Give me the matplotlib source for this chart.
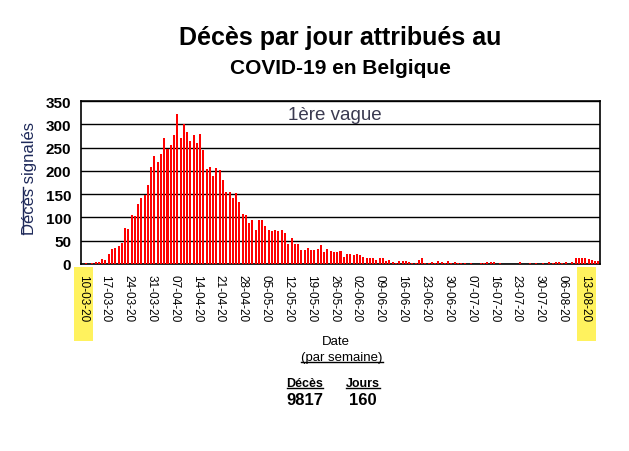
import matplotlib
matplotlib.use("Agg")
import matplotlib.pyplot as plt
import matplotlib.transforms as mtransforms
from matplotlib.patches import Rectangle
from matplotlib.lines import Line2D
import numpy as np

plt.rcParams['font.family'] = ['Liberation Sans', 'DejaVu Sans']

# deces par jour
deces = [1, 2, 1, 2, 4, 4, 11, 9, 22, 32,
         35, 39, 45, 78, 76, 106, 102, 128, 141, 148,
         170, 208, 232, 219, 236, 271, 247, 255, 277, 322,
         271, 301, 283, 264, 277, 260, 279, 245, 203, 208,
         188, 206, 201, 180, 154, 154, 141, 152, 134, 108,
         106, 87, 94, 74, 94, 94, 81, 74, 70, 72,
         70, 72, 66, 44, 55, 42, 44, 29, 31, 35,
         31, 29, 33, 40, 25, 33, 27, 25, 25, 27,
         16, 22, 22, 20, 22, 20, 14, 12, 12, 12,
         9, 12, 12, 7, 9, 5, 3, 7, 7, 7,
         5, 3, 3, 9, 12, 3, 3, 5, 2, 6,
         4, 2, 6, 2, 4, 2, 2, 2, 1, 2,
         1, 1, 2, 2, 4, 4, 4, 1, 2, 1,
         1, 1, 1, 1, 4, 1, 1, 2, 1, 2,
         1, 2, 1, 4, 3, 4, 4, 2, 4, 1,
         4, 12, 13, 12, 12, 11, 9, 6, 6]

tick_labels = ["10-03-20", "17-03-20", "24-03-20", "31-03-20", "07-04-20",
               "14-04-20", "21-04-20", "28-04-20", "05-05-20", "12-05-20",
               "19-05-20", "26-05-20", "02-06-20", "09-06-20", "16-06-20",
               "23-06-20", "30-06-20", "07-07-20", "16-07-20", "23-07-20",
               "30-07-20", "06-08-20", "13-08-20"]
tick_step = 7
total_deces = 9817
total_jours = 160

W, H = 629, 452
fig = plt.figure(figsize=(W / 100, H / 100), dpi=100)
ax = fig.add_axes([81 / W, 1 - 265 / H, 519 / W, 163 / H])

x = np.arange(len(deces))
ax.bar(x, deces, width=0.62, color='#ff0000', zorder=3)
ax.set_xlim(-0.5, len(deces) - 0.5)
ax.set_ylim(0, 350)
ax.set_yticks(range(0, 351, 50))
ax.set_axisbelow(True)
ax.grid(axis='y', color='black', lw=1.0)
for s in ax.spines.values():
    s.set_color('black')
    s.set_linewidth(1.2)

ax.tick_params(axis='y', length=0, labelsize=11, pad=7)
for lab in ax.get_yticklabels():
    lab.set_fontweight('bold')

ticks = np.arange(len(tick_labels)) * tick_step
ax.set_xticks(ticks)
ax.set_xticklabels(tick_labels, rotation=270, fontsize=8.5, va='top', ha='center')
ax.tick_params(axis='x', length=0, pad=7)

# surlignage jaune premiere et derniere date
blend = mtransforms.blended_transform_factory(ax.transData, ax.transAxes)
for i in [0, len(tick_labels) - 1]:
    ax.add_patch(Rectangle((ticks[i] - 2.5, -0.472), 5.8, 0.454, transform=blend,
                           facecolor='#fff25e', edgecolor='none', clip_on=False, zorder=0.2))

ax.set_ylabel("Décès signalés", fontsize=12, color='#1f2a5a')
ax.yaxis.set_label_coords(-0.084, 0.53)

ax.text(0.49, 0.92, "1ère vague", transform=ax.transAxes, ha='center', va='center',
        fontsize=13.5, color='#3a3a50')

fig.text(340 / W, 1 - 38 / H, "Décès par jour attribués au", ha='center', va='center',
         fontsize=18, fontweight='bold')
fig.text(340 / W, 1 - 68 / H, "COVID-19 en Belgique", ha='center', va='center',
         fontsize=15, fontweight='bold')

fig.text(336 / W, 1 - 342 / H, "Date", ha='center', va='center', fontsize=9.5)
t_sem = fig.text(342 / W, 1 - 358 / H, "(par semaine)", ha='center', va='center', fontsize=9.5)
t_dec = fig.text(305 / W, 1 - 384 / H, "Décès", ha='center', va='center', fontsize=9,
                 fontweight='bold')
t_jou = fig.text(363 / W, 1 - 384 / H, "Jours", ha='center', va='center', fontsize=9,
                 fontweight='bold')
fig.text(305 / W, 1 - 401 / H, str(total_deces), ha='center', va='center', fontsize=12,
         fontweight='bold')
fig.text(363 / W, 1 - 401 / H, str(total_jours), ha='center', va='center', fontsize=12,
         fontweight='bold')

# soulignements
fig.canvas.draw()
r = fig.canvas.get_renderer()
pix = mtransforms.IdentityTransform()
for t in [t_sem, t_dec, t_jou]:
    bb = t.get_window_extent(r)
    fig.add_artist(Line2D([bb.x0, bb.x1], [bb.y0 + 1, bb.y0 + 1], transform=pix,
                          color='black', lw=1))

yl = ax.yaxis.label
bb = yl.get_window_extent(r)
tmp = fig.text(0, 0, "Décès", fontsize=12)
w = tmp.get_window_extent(r).width
tmp.remove()
fig.add_artist(Line2D([bb.x0 + 1, bb.x0 + 1], [bb.y0, bb.y0 + w], transform=pix,
                      color='#1f2a5a', lw=1))

fig.savefig("out.png", dpi=100)
